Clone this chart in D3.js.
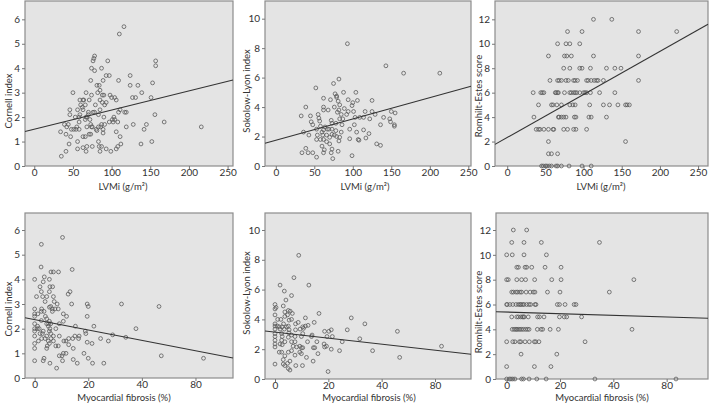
<!DOCTYPE html>
<html><head><meta charset="utf-8">
<script src="https://cdn.jsdelivr.net/npm/d3@7"></script>
<style>
body{margin:0;background:#fff}
svg{display:block}
text{font-family:Lato,"Open Sans",sans-serif;fill:#333}
</style>
</head><body><svg id="c" width="709" height="404"></svg>
<script>
// ---------- data ----------
const lvmiTicks = [0, 50, 100, 150, 200, 250];
const fibrosisTicks = [0, 20, 40, 80];
const cornellTicks = [0, 1, 2, 3, 4, 5, 6];
const sokolowTicks = [0, 2, 4, 6, 8, 10];
const romhiltTicks = [0, 2, 4, 6, 8, 10, 12];

const cornellVsLvmi = [
 [116,5.7],[110,5.4],[157,4.3],[157,4.1],[78,4.5],[77,4.4],[76,4.3],[95,4.3],[74,4.0],[87,4.0],
 [78,3.9],[93,3.7],[97,3.7],[124,3.7],[73,3.5],[89,3.5],[109,3.5],[153,3.4],[81,3.3],[84,3.3],
 [124,3.3],[134,3.3],[67,3.0],[50,3.0],[85,3.1],[82,3.0],[139,3.0],[74,2.9],[88,2.9],[90,2.9],
 [98,2.9],[100,2.8],[104,2.8],[127,2.8],[131,2.8],[151,2.8],[106,2.7],[71,2.7],[59,2.7],[63,2.7],
 [64,2.7],[85,2.7],[88,2.6],[93,2.6],[60,2.5],[66,2.5],[79,2.5],[91,2.5],[62,2.4],[63,2.3],
 [46,2.3],[85,2.3],[56,2.3],[111,2.3],[109,2.2],[117,2.2],[119,2.2],[70,2.2],[76,2.2],[78,2.2],
 [46,2.1],[59,2.1],[70,2.1],[83,2.1],[156,2.1],[53,2.0],[58,2.0],[67,2.0],[68,2.0],[90,2.0],
 [103,2.0],[66,1.9],[72,1.9],[101,1.9],[104,1.9],[58,1.8],[97,1.8],[102,1.8],[108,1.8],[168,1.8],
 [39,1.7],[42,1.6],[44,1.7],[73,1.7],[87,1.7],[91,1.7],[128,1.7],[145,1.7],[55,1.6],[68,1.6],
 [74,1.6],[75,1.6],[83,1.6],[86,1.6],[119,1.6],[216,1.6],[48,1.5],[51,1.5],[54,1.5],[58,1.5],
 [80,1.5],[89,1.5],[142,1.5],[81,1.45],[34,1.4],[89,1.35],[106,1.4],[41,1.3],[71,1.3],[73,1.3],
 [63,1.2],[66,1.2],[47,1.2],[111,1.2],[56,1.0],[83,1.0],[152,1.0],[45,0.9],[112,0.9],[138,0.9],
 [68,0.8],[75,0.8],[84,0.8],[87,0.8],[108,0.8],[63,0.75],[56,0.7],[93,0.7],[106,0.7],[67,0.6],
 [85,0.6],[99,0.6],[41,0.6],[35,0.4]
];

const sokolowVsLvmi = [
 [93,8.3],[143,6.8],[166,6.3],[213,6.3],[82,5.9],[75,5.6],[52,5.3],[88,5.0],[104,5.0],[77,4.9],
 [79,4.75],[79,4.66],[62,4.6],[71,4.5],[94,4.5],[106,4.45],[125,4.45],[81,4.4],[100,4.3],[99,4.1],
 [83,4.15],[39,4.0],[62,4.0],[76,4.0],[89,3.9],[82,3.8],[68,3.8],[62,3.8],[80,3.65],[94,3.7],
 [101,3.7],[116,3.7],[125,3.7],[150,3.7],[155,3.6],[55,3.5],[85,3.5],[92,3.5],[33,3.4],[45,3.4],
 [103,3.3],[114,3.3],[129,3.5],[109,3.3],[140,3.3],[56,3.25],[83,3.2],[87,3.2],[122,3.2],[148,3.2],
 [72,3.1],[57,3.05],[149,3.0],[46,3.0],[78,2.9],[73,2.9],[48,2.8],[86,2.8],[102,2.8],[136,2.8],
 [154,2.8],[154,2.7],[58,2.7],[64,2.65],[67,2.5],[69,2.5],[53,2.5],[62,2.45],[73,2.5],[96,2.5],
 [114,2.45],[78,2.4],[105,2.3],[36,2.3],[60,2.3],[85,2.3],[121,2.2],[73,2.15],[76,2.1],[54,2.1],
 [43,2.1],[61,2.1],[66,2.1],[79,2.0],[70,1.95],[83,1.95],[117,1.9],[96,1.85],[53,1.8],[58,1.8],
 [62,1.8],[107,1.8],[108,1.75],[82,1.7],[66,1.65],[131,1.5],[136,1.4],[70,1.5],[60,1.35],[39,1.2],
 [73,1.15],[63,1.1],[34,0.9],[42,0.9],[48,0.9],[62,0.9],[72,0.9],[81,1.0],[53,0.6],[99,0.7],
 [74,0.5]
];

// Romhilt-Estes score rows: [score, LVMi values]
const romhiltVsLvmiRows = [
 [12,[113,137]],
 [11,[79,98,172,222]],
 [10,[66,77,82,95]],
 [9,[54,75,78,84,113,172]],
 [8,[74,82,95,98,109,130,141,149]],
 [7,[56,66,68,71,77,80,87,89,92,104,106,110,114,117,119,126,172]],
 [6,[34,44,46,48,63,64,66,67,75,82,84,87,89,91,95,100,102,104,109,121,141]],
 [5,[41,58,60,65,71,82,86,89,108,126,134,145,155,157,160]],
 [4,[35,67,68,71,74,77,88,90,107,110,130]],
 [3,[38,41,43,48,54,60,61,74,79,87,90,104]],
 [2,[54,155]],
 [1,[54,58,66]],
 [0,[45,47,50,52,55,58,64,66,71,81,98,110]]
];

const cornellVsFibrosis = [
 [10.4,5.7],[2.5,5.42],[2.4,4.5],[14.0,4.4],[0,4.0],[3.6,4.1],[6.1,4.3],[7.0,4.3],[8.9,4.3],[5.5,4.0],
 [3.2,3.9],[2.0,3.7],[5.7,3.7],[6.7,3.7],[2.5,3.5],[5.5,3.5],[13.2,3.5],[12.5,3.4],[0.7,3.3],[3.0,3.3],
 [4.5,3.3],[7.0,3.3],[3.9,3.1],[7.3,3.1],[6.0,2.9],[5.5,2.87],[13.8,3.0],[8.4,3.0],[19.6,3.0],[20.0,2.9],
 [0,2.8],[2.6,2.8],[6.6,2.8],[7.6,2.8],[8.8,2.8],[2.5,2.7],[3.5,2.7],[6.6,2.7],[0,2.6],[1.2,2.6],
 [10.7,2.6],[0,2.5],[4.0,2.5],[11.9,2.5],[19.6,2.5],[4.5,2.4],[2.5,2.33],[5.5,2.3],[10.7,2.3],[0,2.2],
 [4.5,2.2],[5.2,2.2],[6.0,2.2],[9.2,2.2],[1.1,2.1],[5.1,2.1],[15.2,2.1],[22.1,2.1],[0,2.0],[1.0,2.0],
 [1.7,2.0],[5.7,2.0],[7.9,2.0],[37.8,2.0],[0,1.9],[3.2,1.9],[5.5,1.9],[18.9,1.9],[2.0,1.8],[2.9,1.8],
 [6.0,1.8],[19.1,1.8],[29.1,1.75],[0,1.7],[4.5,1.7],[7.0,1.7],[9.2,1.7],[15.0,1.7],[16.6,1.7],[34.0,1.65],
 [2.6,1.6],[3.9,1.6],[6.1,1.6],[12.7,1.6],[14.2,1.6],[16.4,1.6],[24.6,1.6],[1.4,1.5],[5.1,1.5],[7.0,1.5],
 [10.9,1.5],[11.7,1.5],[27.5,1.5],[0,1.4],[5.5,1.4],[19.6,1.45],[21.4,1.4],[12.7,1.35],[4.7,1.3],[7.9,1.3],
 [8.8,1.3],[0,1.2],[4.5,1.2],[14.4,1.2],[10.7,1.0],[11.7,1.0],[18.4,1.0],[9.2,0.9],[10.2,0.9],[54.5,0.9],
 [86,0.8],[52.8,2.9],[32.4,3.0],[0,0.7],[3.2,0.7],[3.5,0.8],[5.7,0.6],[10.4,0.7],[14.4,0.75],[15.9,0.6],
 [20.0,0.8],[21.6,0.6],[25.8,0.6],[8.2,0.4]
];

const sokolowVsFibrosis = [
 [8.9,8.3],[7.1,6.8],[1.9,6.3],[12.7,6.3],[3.5,5.9],[6.2,5.6],[4.1,5.3],[0,5.0],[0.4,4.8],[0,4.7],
 [3.1,4.9],[5.0,4.6],[5.7,4.55],[3.7,4.5],[6.5,4.4],[16.5,4.4],[0,4.3],[4.7,4.3],[3.7,4.2],[11.4,4.1],
 [28.6,4.1],[1.0,4.0],[2.2,4.0],[5.3,3.95],[6.2,4.0],[8.7,3.8],[14.7,3.8],[0,3.7],[3.2,3.7],[7.7,3.7],
 [33.7,3.7],[0,3.55],[0.9,3.55],[1.6,3.5],[2.7,3.5],[4.3,3.5],[5.0,3.55],[10.4,3.5],[11.4,3.55],[12.4,3.6],
 [0,3.35],[1.9,3.35],[3.5,3.35],[5.3,3.3],[7.7,3.3],[9.4,3.35],[10.7,3.4],[21.1,3.3],[20.2,3.2],[18.6,3.2],
 [27.1,3.3],[51.8,3.2],[0,3.05],[2.5,3.05],[5.2,3.1],[6.2,2.95],[10.4,3.05],[13.9,2.95],[0,2.85],[2.7,2.85],
 [5.0,2.8],[7.5,2.85],[9.9,2.85],[13.7,2.85],[21.5,2.85],[19.5,2.85],[31.8,2.7],[0,2.6],[2.5,2.6],[3.7,2.5],
 [6.2,2.5],[7.5,2.5],[12.2,2.5],[15.7,2.5],[25.2,2.5],[0,2.35],[1.9,2.35],[2.7,2.3],[6.8,2.2],[9.3,2.2],
 [18.4,2.35],[19.3,2.2],[0,2.15],[8.1,2.15],[9.9,2.1],[10.4,2.1],[14.4,2.1],[14.9,2.1],[18.6,2.15],[84.9,2.2],
 [21.1,2.0],[24.2,1.9],[36.6,1.9],[1.6,1.8],[2.5,1.8],[5.0,1.8],[6.2,1.9],[9.3,1.8],[9.9,1.7],[16.1,1.7],
 [7.5,1.6],[3.7,1.55],[11.8,1.45],[53.5,1.45],[3.1,1.3],[5.6,1.2],[14.3,1.2],[0,1.0],[3.1,1.0],[3.7,0.9],
 [4.7,1.05],[7.8,0.9],[10.3,0.9],[5.0,0.7],[5.6,0.6],[19.9,0.5]
];

// Romhilt-Estes score rows: [score, fibrosis values]
const romhiltVsFibrosisRows = [
 [12,[2.5,7.5]],
 [11,[1.9,6.5,13.0,34.8]],
 [10,[0,2.1,6.5,14.9]],
 [9,[3.8,4.4,6.9,7.5,9.4,14.4,20.4]],
 [8,[0,0.6,3.8,5.6,7.1,10.5,16.9,20.4,55.4]],
 [7,[1.9,2.5,3.5,4.1,5.0,5.6,7.3,8.8,10.0,10.6,15.3,20.0,38.5]],
 [6,[0,0.2,1.2,2.3,3.5,4.4,5.0,5.4,6.0,6.5,7.5,8.4,9.0,10.6,11.0,19.0,19.8,21.9,25.3,26.0]],
 [5,[1.9,3.8,4.4,5.3,5.9,6.3,6.6,8.1,11.6,12.3,14.0,19.8,21.6,22.5,28.1]],
 [4,[2.1,2.8,3.4,3.8,4.4,5.0,5.6,6.3,7.1,7.8,8.4,11.5,12.9,13.5,16.3,19.4,54.0]],
 [3,[0,2.3,3.1,4.8,5.3,6.9,8.5,10.4,10.9,12.1,29.4]],
 [2,[5.4,18.8]],
 [1,[0,10.4,16.6]],
 [0,[0,1.0,1.6,2.3,3.1,5.6,6.3,8.4,11.3,14.8,33.1,87]]
];

// fitted regression lines, endpoints [x, y] at the plot edges
const fitCornellLvmi = [[-12,1.41],[257,3.52]];
const fitSokolowLvmi = [[-14,1.55],[253.5,5.41]];
const fitRomhiltLvmi = [[-16,1.77],[263,11.6]];
const fitCornellFibrosis = [[-3.6,2.44],[108,0.81]];
const fitSokolowFibrosis = [[-3.75,3.22],[107,1.66]];
const fitRomhiltFibrosis = [[-4,5.42],[111,4.89]];

// ---------- drawing ----------
const rowsToPairs = rows => rows.flatMap(([y, xs]) => xs.map(x => [x, y]));

const svg = d3.select("#c");

function fibrosisScale(xmin, xmax, left, right) {
  // axis compressed above 40 % (as in the original figure)
  const k = (right - left) / ((40 - xmin) + (xmax - 40) / 2);
  return d3.scaleLinear().domain([xmin, 40, xmax]).range([left, left + (40 - xmin) * k, right]);
}

const LVMI = "LVMi (g/m\u00B2)";
const FIB = "Myocardial fibrosis (%)";
const FS = 9.5;

const panels = [
  {data: cornellVsLvmi, fit: fitCornellLvmi, box:[25,1,233,166], x: d3.scaleLinear().domain([-12,257]), xt: lvmiTicks, yd:[0,6.75], yt: cornellTicks, ylab:"Cornell index", ylx:10, yly:101, xlab:LVMI, xlx:123, xly:187.5},
  {data: sokolowVsLvmi, fit: fitSokolowLvmi, box:[265,1,471,166], x: d3.scaleLinear().domain([-14,253.5]), xt: lvmiTicks, yd:[0,11.2], yt: sokolowTicks, ylab:"Sokolow-Lyon index", ylx:248, yly:91, xlab:LVMI, xlx:365, xly:187.5},
  {data: rowsToPairs(romhiltVsLvmiRows), fit: fitRomhiltLvmi, box:[495,1,708,166], x: d3.scaleLinear().domain([-16,263]), xt: lvmiTicks, yd:[0,13.5], yt: romhiltTicks, ylab:"Romhilt-Estes score", ylx:480, yly:96, xlab:LVMI, xlx:601, xly:187.5},
  {data: cornellVsFibrosis, fit: fitCornellFibrosis, box:[25,213,233,378], fib:[-3.6,108], xt: fibrosisTicks, yd:[0,6.69], yt: cornellTicks, ylab:"Cornell index", ylx:10, yly:309, xlab:FIB, xlx:124, xly:398.5},
  {data: sokolowVsFibrosis, fit: fitSokolowFibrosis, box:[265,213,471,379], fib:[-3.75,107], xt: fibrosisTicks, yd:[0,11.14], yt: sokolowTicks, ylab:"Sokolow-Lyon index", ylx:248, yly:293, xlab:FIB, xlx:369, xly:398.5},
  {data: rowsToPairs(romhiltVsFibrosisRows), fit: fitRomhiltFibrosis, box:[496,213,708,379], fib:[-4,111], xt: fibrosisTicks, yd:[0,13.37], yt: romhiltTicks, ylab:"Romhilt-Estes score", ylx:480, yly:312, xlab:FIB, xlx:602, xly:398.5}
];

panels.forEach(p => {
  const [l, t, r, b] = p.box;
  const x = p.fib ? fibrosisScale(p.fib[0], p.fib[1], l, r) : p.x.range([l, r]);
  const y = d3.scaleLinear().domain(p.yd).range([b, t]);
  const g = svg.append("g");

  g.append("rect").attr("x", l).attr("y", t).attr("width", r - l).attr("height", b - t)
    .attr("fill", "#e4e4e4").attr("stroke", "#8c8c8c").attr("stroke-width", 1.2);

  // y axis
  const ya = g.append("g").attr("transform", `translate(${l},0)`)
    .call(d3.axisLeft(y).tickValues(p.yt).tickSize(3).tickPadding(2).tickFormat(d3.format("d")));
  ya.select(".domain").remove();
  ya.selectAll("line").attr("stroke", "#777");
  ya.selectAll("text").attr("font-size", FS + 0.5).attr("fill", "#333").style("font-family", "Lato, sans-serif");

  // x axis
  const xa = g.append("g").attr("transform", `translate(0,${b})`)
    .call(d3.axisBottom(x).tickValues(p.xt).tickSize(3).tickPadding(0).tickFormat(d3.format("d")));
  xa.select(".domain").remove();
  xa.selectAll("line").attr("stroke", "#777");
  xa.selectAll("text").attr("font-size", FS + 0.5).attr("fill", "#333").style("font-family", "Lato, sans-serif");

  // points
  g.append("g").selectAll("circle").data(p.data).join("circle")
    .attr("cx", d => x(d[0])).attr("cy", d => y(d[1])).attr("r", 1.9)
    .attr("fill", "none").attr("stroke", "#5a5a5a").attr("stroke-width", 0.8);

  // fit line
  g.append("line")
    .attr("x1", x(p.fit[0][0])).attr("y1", y(p.fit[0][1]))
    .attr("x2", x(p.fit[1][0])).attr("y2", y(p.fit[1][1]))
    .attr("stroke", "#333").attr("stroke-width", 1.1);

  // y title
  g.append("text").attr("transform", `translate(${p.ylx},${p.yly}) rotate(-90)`)
    .attr("text-anchor", "middle").attr("dominant-baseline", "middle")
    .attr("font-size", FS).text(p.ylab);

  // x title
  g.append("text").attr("x", p.xlx).attr("y", p.xly)
    .attr("text-anchor", "middle").attr("dominant-baseline", "middle")
    .attr("font-size", FS).text(p.xlab);
});
</script>
</body></html>
